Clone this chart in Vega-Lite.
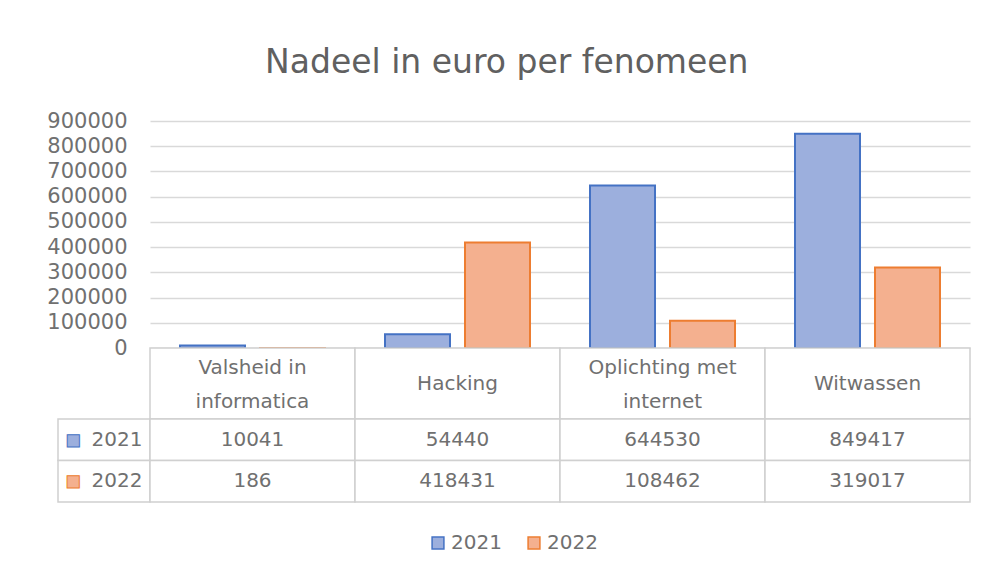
{
  "$schema": "https://vega.github.io/schema/vega-lite/v6.json",
  "background": "white",
  "padding": {"left": 46, "top": 47, "right": 10, "bottom": 10},
  "title": {"text": "Nadeel in euro per fenomeen", "fontSize": 33, "font": "DejaVu Sans", "fontWeight": "normal", "color": "#606060", "anchor": "middle", "offset": 30, "dx": -2},
  "datasets": {
    "main": [
      {"category": "Valsheid in informatica", "label": "Valsheid in\ninformatica", "year": "2021", "value": 10041},
      {"category": "Valsheid in informatica", "label": "Valsheid in\ninformatica", "year": "2022", "value": 186},
      {"category": "Hacking", "label": "Hacking", "year": "2021", "value": 54440},
      {"category": "Hacking", "label": "Hacking", "year": "2022", "value": 418431},
      {"category": "Oplichting met internet", "label": "Oplichting met\ninternet", "year": "2021", "value": 644530},
      {"category": "Oplichting met internet", "label": "Oplichting met\ninternet", "year": "2022", "value": 108462},
      {"category": "Witwassen", "label": "Witwassen", "year": "2021", "value": 849417},
      {"category": "Witwassen", "label": "Witwassen", "year": "2022", "value": 319017}
    ]
  },
  "columns": 2,
  "spacing": 0,
  "bounds": "flush",
  "align": "each",
  "resolve": {"scale": {"fill": "shared", "stroke": "shared"}},
  "concat": [
    {
      "width": 92, "height": 227,
      "data": {"values": [{}]},
      "mark": {"type": "text", "text": ""},
      "encoding": {}
    },
    {
      "width": 820, "height": 227,
      "data": {"name": "main"},
      "mark": {"type": "bar", "strokeWidth": 2},
      "encoding": {
        "x": {"field": "category", "type": "nominal", "sort": null, "scale": {"paddingInner": 0, "paddingOuter": 0}, "axis": null},
        "xOffset": {"field": "year", "type": "nominal", "scale": {"paddingInner": 0.1875, "paddingOuter": 0.375}},
        "y": {"field": "value", "type": "quantitative", "scale": {"domain": [0, 900000], "nice": false},
              "axis": {"title": null, "values": [0, 100000, 200000, 300000, 400000, 500000, 600000, 700000, 800000, 900000], "format": "d", "labelFontSize": 21, "labelFont": "DejaVu Sans", "labelColor": "#707070", "labelPadding": 23, "ticks": false, "domain": false, "grid": true, "gridColor": "#d9d9d9", "gridWidth": 1.5, "labelOverlap": false, "labelFlush": false}},
        "fill": {"field": "year", "type": "nominal", "title": null, "scale": {"domain": ["2021", "2022"], "range": ["#9cafdd", "#f4b08f"]}},
        "stroke": {"field": "year", "type": "nominal", "title": null, "scale": {"domain": ["2021", "2022"], "range": ["#4472c4", "#ed7d31"]}}
      }
    },
    {
      "width": 92, "height": 71,
      "data": {"values": [{}]},
      "mark": {"type": "text", "text": ""},
      "encoding": {}
    },
    {
      "width": 820, "height": 71,
      "data": {"name": "main"},
      "transform": [{"filter": "datum.year == '2021'"}],
      "encoding": {
        "x": {"field": "category", "type": "nominal", "sort": null, "scale": {"paddingInner": 0, "paddingOuter": 0}, "axis": null}
      },
      "layer": [
        {"mark": {"type": "rect", "fill": "white", "stroke": "#d0d0d0", "strokeWidth": 1.5}},
        {"transform": [{"filter": "indexof(datum.label, '\\n') >= 0"}],
         "mark": {"type": "text", "lineBreak": "\n", "lineHeight": 34, "fontSize": 20, "font": "DejaVu Sans", "fill": "#707070", "dy": -16},
         "encoding": {"text": {"field": "label"}}},
        {"transform": [{"filter": "indexof(datum.label, '\\n') < 0"}],
         "mark": {"type": "text", "fontSize": 20, "font": "DejaVu Sans", "fill": "#707070"},
         "encoding": {"text": {"field": "label"}}}
      ]
    },
    {
      "width": 92, "height": 83,
      "data": {"name": "main"},
      "transform": [{"filter": "datum.category == 'Hacking'"}],
      "encoding": {
        "y": {"field": "year", "type": "nominal", "scale": {"paddingInner": 0, "paddingOuter": 0}, "axis": null}
      },
      "layer": [
        {"mark": {"type": "rect", "fill": "white", "stroke": "#d0d0d0", "strokeWidth": 1.5}},
        {"mark": {"type": "text", "text": "■", "fontSize": 16, "font": "DejaVu Sans", "dx": -31, "strokeWidth": 1},
         "encoding": {
           "fill": {"field": "year", "type": "nominal", "title": null},
           "stroke": {"field": "year", "type": "nominal", "title": null}
         }},
        {"mark": {"type": "text", "fontSize": 20, "font": "DejaVu Sans", "fill": "#707070", "dx": 13},
         "encoding": {"text": {"field": "year"}}}
      ]
    },
    {
      "width": 820, "height": 83,
      "data": {"name": "main"},
      "encoding": {
        "x": {"field": "category", "type": "nominal", "sort": null, "scale": {"paddingInner": 0, "paddingOuter": 0}, "axis": null},
        "y": {"field": "year", "type": "nominal", "scale": {"paddingInner": 0, "paddingOuter": 0}, "axis": null}
      },
      "layer": [
        {"mark": {"type": "rect", "fill": "white", "stroke": "#d0d0d0", "strokeWidth": 1.5}},
        {"mark": {"type": "text", "fontSize": 20, "font": "DejaVu Sans", "fill": "#707070"},
         "encoding": {"text": {"field": "value", "type": "quantitative", "format": "d"}}}
      ]
    }
  ],
  "config": {
    "view": {"stroke": null},
    "font": "DejaVu Sans",
    "legend": {"orient": "none", "legendX": 370, "legendY": 412, "direction": "horizontal", "symbolType": "square", "symbolSize": 140, "symbolStrokeWidth": 1.5, "labelFontSize": 20, "labelFont": "DejaVu Sans", "labelColor": "#707070", "labelOffset": 3, "columnPadding": 22, "symbolOpacity": 1}
  }
}
